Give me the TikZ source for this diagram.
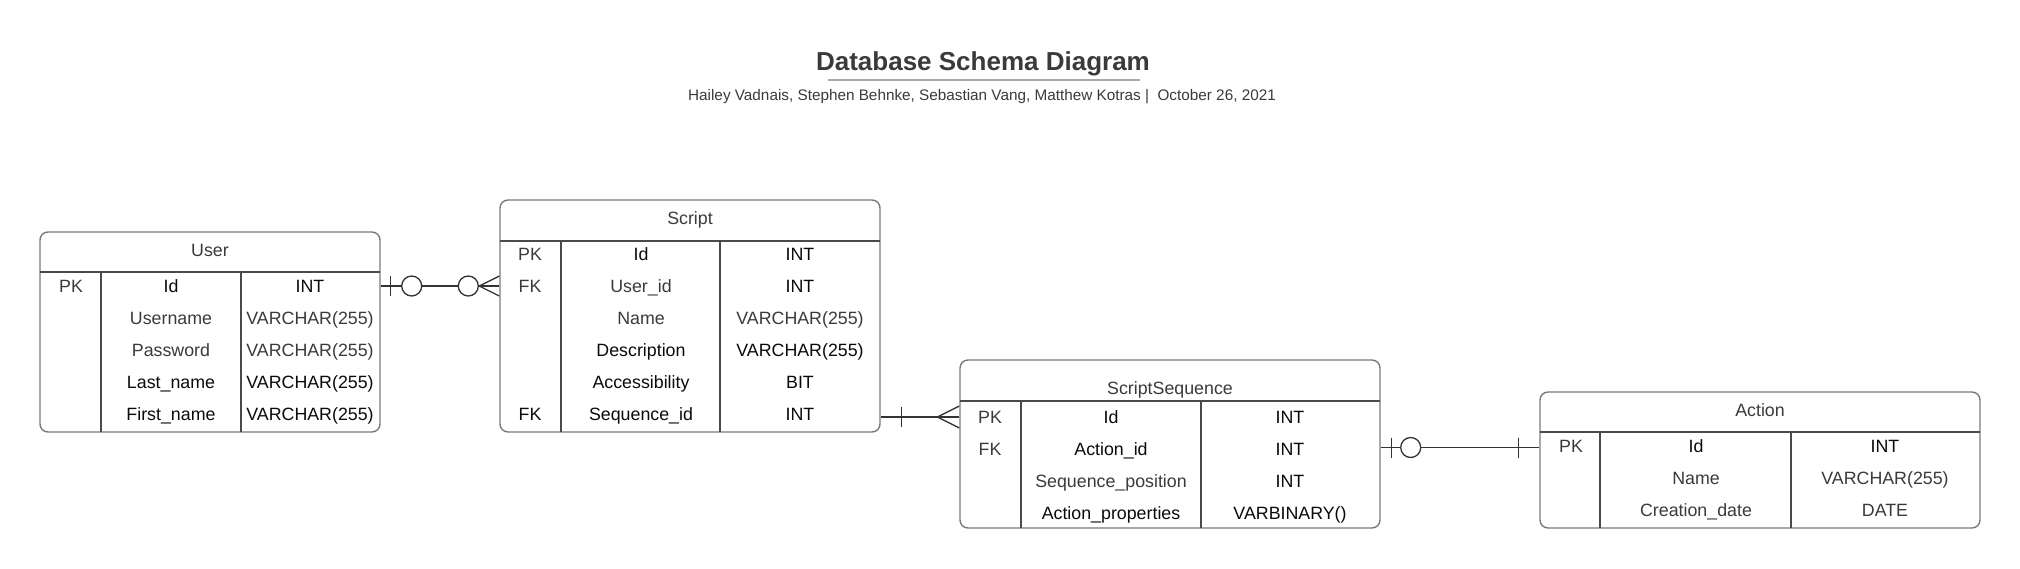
\documentclass[tikz,border=0pt]{standalone}
\usepackage{fontspec}
\setmainfont{Liberation Sans}
\usetikzlibrary{calc}
\definecolor{bordc}{HTML}{7A7A7A}
\definecolor{divc}{HTML}{4A4A4A}
\definecolor{txtg}{HTML}{3A3A3A}
\definecolor{txtk}{HTML}{0A0A0A}
\definecolor{connc}{HTML}{333333}
\definecolor{ulc}{HTML}{A3A7B7}
\tikzset{
  tbl/.style={draw=bordc, line width=1.4pt, rounded corners=8pt, rectangle, inner sep=0pt},
  div/.style={draw=divc, line width=1.1pt},
  cell/.style={font=\fontsize{17.8}{21}\selectfont, text=txtg, inner sep=0pt, text height=12.7pt, text depth=0pt, anchor=center},
  cellk/.style={cell, text=txtk},
  conn/.style={draw=connc, line width=1.3pt},
}
\begin{document}
\begin{tikzpicture}[x=1pt,y=-1pt]
\useasboundingbox (0,0) rectangle (2020,568);
% Title
\node[font=\fontsize{26}{30}\selectfont\bfseries, text=txtg, inner sep=0pt, text height=18.6pt, text depth=0pt] (title) at (983,61) {Database Schema Diagram};
\coordinate (ulL) at (828,80);
\coordinate (ulR) at (1140,80);
\draw[draw=ulc, line width=2pt] (ulL) -- (ulR);
\node[font=\fontsize{15.3}{18}\selectfont, text=txtg, inner sep=0pt, text height=11pt, text depth=0pt] (sub) at (982,95) {Hailey Vadnais, Stephen Behnke, Sebastian Vang, Matthew Kotras |\ \ October 26, 2021};

% ---------------- User ----------------
\node[tbl, minimum width=340pt, minimum height=200pt] (user) at (210,332) {};
\draw[div] (40,272) -- (380,272);
\draw[div] (101,272) -- (101,432);
\draw[div] (241,272) -- (241,432);
\node[cell] (uhead) at (210,250) {User};
\node[cell] (upk) at (71,286) {PK};
\node[cellk] (uid) at (171,286) {Id};
\node[cellk] (uidt) at (310,286) {INT};
\node[cell] (uun) at (171,318) {Username};
\node[cell] (uunt) at (310,318) {VARCHAR(255)};
\node[cell] (upw) at (171,350) {Password};
\node[cell] (upwt) at (310,350) {VARCHAR(255)};
\node[cellk] (uln) at (171,382) {Last\_name};
\node[cellk] (ulnt) at (310,382) {VARCHAR(255)};
\node[cellk] (ufn) at (171,414) {First\_name};
\node[cellk] (ufnt) at (310,414) {VARCHAR(255)};

% ---------------- Script ----------------
\node[tbl, minimum width=380pt, minimum height=232pt] (script) at (690,316) {};
\draw[div] (500,241) -- (880,241);
\draw[div] (561,241) -- (561,432);
\draw[div] (720,241) -- (720,432);
\node[cell] (shead) at (690,218) {Script};
\node[cell] (spk) at (530,254) {PK};
\node[cellk] (sid) at (641,254) {Id};
\node[cellk] (sidt) at (800,254) {INT};
\node[cell] (sfk1) at (530,286) {FK};
\node[cell] (suid) at (641,286) {User\_id};
\node[cellk] (suidt) at (800,286) {INT};
\node[cell] (sname) at (641,318) {Name};
\node[cell] (snamet) at (800,318) {VARCHAR(255)};
\node[cellk] (sdesc) at (641,350) {Description};
\node[cellk] (sdesct) at (800,350) {VARCHAR(255)};
\node[cellk] (sacc) at (641,382) {Accessibility};
\node[cellk] (sacct) at (800,382) {BIT};
\node[cellk] (sfk2) at (530,414) {FK};
\node[cellk] (sseq) at (641,414) {Sequence\_id};
\node[cellk] (sseqt) at (800,414) {INT};

% ---------------- ScriptSequence ----------------
\node[tbl, minimum width=420pt, minimum height=168pt] (ss) at (1170,444) {};
\draw[div] (960,401) -- (1380,401);
\draw[div] (1021,401) -- (1021,528);
\draw[div] (1201,401) -- (1201,528);
\node[cell] (sshead) at (1170,388) {ScriptSequence};
\node[cell] (sspk) at (990,417) {PK};
\node[cellk] (ssid) at (1111,417) {Id};
\node[cellk] (ssidt) at (1290,417) {INT};
\node[cell] (ssfk) at (990,449) {FK};
\node[cellk] (ssaid) at (1111,449) {Action\_id};
\node[cellk] (ssaidt) at (1290,449) {INT};
\node[cell] (sspos) at (1111,481) {Sequence\_position};
\node[cellk] (sspost) at (1290,481) {INT};
\node[cellk] (ssprop) at (1111,513) {Action\_properties};
\node[cellk] (sspropt) at (1290,513) {VARBINARY()};

% ---------------- Action ----------------
\node[tbl, minimum width=440pt, minimum height=136pt] (action) at (1760,460) {};
\draw[div] (1540,432) -- (1980,432);
\draw[div] (1600,432) -- (1600,528);
\draw[div] (1791,432) -- (1791,528);
\node[cell] (ahead) at (1760,410) {Action};
\node[cell] (apk) at (1571,446) {PK};
\node[cellk] (aid) at (1696,446) {Id};
\node[cellk] (aidt) at (1885,446) {INT};
\node[cell] (aname) at (1696,478) {Name};
\node[cell] (anamet) at (1885,478) {VARCHAR(255)};
\node[cell] (acd) at (1696,510) {Creation\_date};
\node[cell] (acdt) at (1885,510) {DATE};

% ---------------- Connectors ----------------
% User -- Script : one-or-zero to zero-or-many
\coordinate (c1a) at (user.east |- uid);
\coordinate (c1b) at (script.west |- uid);
\draw[conn] (c1a) -- (c1b);
\draw[conn] ($(c1a)+(10,-10)$) -- ($(c1a)+(10,10)$);
\draw[conn, fill=white] ($(c1a)+(31,0)$) circle[radius=10pt];
\draw[conn, fill=white] ($(c1b)+(-31,0)$) circle[radius=10pt];
\draw[conn] ($(c1b)+(-20,0)$) -- ($(c1b)+(0,-10)$);
\draw[conn] ($(c1b)+(-20,0)$) -- ($(c1b)+(0,10)$);

% Script -- ScriptSequence : one to many
\coordinate (c2a) at (script.east |- ssid);
\coordinate (c2b) at (ss.west |- ssid);
\draw[conn] (c2a) -- (c2b);
\draw[conn] ($(c2a)+(21,-10)$) -- ($(c2a)+(21,10)$);
\draw[conn] ($(c2b)+(-22,0)$) -- ($(c2b)+(0,-11)$);
\draw[conn] ($(c2b)+(-22,0)$) -- ($(c2b)+(0,11)$);

% ScriptSequence -- Action : zero-or-one to one
\coordinate (c3m) at ($(ssaid)!0.5!(aid)$);
\coordinate (c3a) at (ss.east |- c3m);
\coordinate (c3b) at (action.west |- c3m);
\draw[conn] (c3a) -- (c3b);
\draw[conn] ($(c3a)+(11,-10)$) -- ($(c3a)+(11,10)$);
\draw[conn, fill=white] ($(c3a)+(30,0)$) circle[radius=10pt];
\draw[conn] ($(c3b)+(-21,-10)$) -- ($(c3b)+(-21,10)$);
\end{tikzpicture}
\end{document}
